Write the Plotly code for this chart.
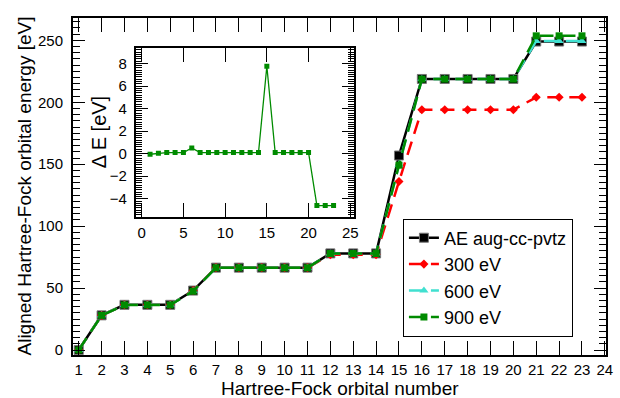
import plotly.graph_objects as go

orbitals = list(range(1, 24))
ae_vals = [0, 28, 36.5, 36.5, 36.5, 48, 66.5, 66.5, 66.5, 66.5, 66.5, 78, 78, 78,
           157, 218.8, 218.8, 218.8, 218.8, 218.8, 249, 249, 249]
ev300_vals = [0, 28, 36.5, 36.5, 36.5, 48, 66.5, 66.5, 66.5, 66.5, 66.5, 77, 77, 77,
              136, 194, 194, 194, 194, 194, 204, 204, 204]
ev600_vals = [0, 28, 36.5, 36.5, 36.5, 47.6, 66.4, 66.4, 66.4, 66.4, 66.4, 77.9, 77.9, 77.9,
              149.5, 218.7, 218.7, 218.7, 218.7, 218.7, 249.5, 249.5, 249.5]
ev900_vals = [0.05, 27.95, 36.4, 36.4, 36.4, 47.5, 66.4, 66.4, 66.4, 66.4, 66.4, 77.9, 77.9, 77.9,
              149.2, 218.7, 218.7, 218.7, 218.7, 218.7, 253.6, 253.6, 253.6]
delta_e = [-0.05, 0.03, 0.1, 0.1, 0.1, 0.5, 0.1, 0.1, 0.1, 0.1, 0.1, 0.1, 0.1, 0.1,
           7.75, 0.1, 0.1, 0.1, 0.1, 0.1, -4.6, -4.6, -4.6]
x_ticks = list(range(1, 25))
y_ticks = [0, 50, 100, 150, 200, 250]
inset_x_ticks = [0, 5, 10, 15, 20, 25]
inset_y_ticks = [-4, -2, 0, 2, 4, 6, 8]

GREEN = "rgb(0,139,0)"
RED = "rgb(255,0,0)"
CYAN = "rgb(64,224,208)"
FONT = "Liberation Sans, Arial, sans-serif"

fig = go.Figure()
fig.add_trace(go.Scatter(x=orbitals, y=ae_vals, name="AE aug-cc-pvtz", mode="lines+markers",
                         line=dict(color="black", width=2.5),
                         marker=dict(symbol="square", size=9, color="black",
                                     line=dict(color="#777", width=1))))
fig.add_trace(go.Scatter(x=orbitals, y=ev300_vals, name="300 eV", mode="lines+markers",
                         line=dict(color=RED, width=2.5, dash="14px,8px"),
                         marker=dict(symbol="diamond", size=7, color=RED)))
fig.add_trace(go.Scatter(x=orbitals, y=ev600_vals, name="600 eV", mode="lines+markers",
                         line=dict(color=CYAN, width=2.5, dash="14px,8px"),
                         marker=dict(symbol="triangle-up", size=8, color=CYAN)))
fig.add_trace(go.Scatter(x=orbitals, y=ev900_vals, name="900 eV", mode="lines+markers",
                         line=dict(color=GREEN, width=2.5, dash="14px,8px"),
                         marker=dict(symbol="square", size=7, color=GREEN)))
fig.add_trace(go.Scatter(x=orbitals, y=delta_e, xaxis="x2", yaxis="y2", showlegend=False,
                         mode="lines+markers", line=dict(color=GREEN, width=1.3),
                         marker=dict(symbol="square", size=5, color=GREEN)))

axis_common = dict(showgrid=False, zeroline=False, showline=True, linecolor="black",
                   linewidth=2, mirror="allticks", ticks="inside", tickcolor="black",
                   tickwidth=1.3, tickfont=dict(family=FONT, size=15, color="black"))

fig.update_layout(
    width=620, height=398, autosize=False,
    margin=dict(l=73, r=7, t=18, b=43),
    paper_bgcolor="white", plot_bgcolor="white",
    font=dict(family=FONT, color="black"),
    xaxis=dict(**axis_common, range=[0.75, 24.05], tickvals=x_ticks, ticklen=14,
               ticklabelstandoff=0),
    yaxis=dict(**axis_common, range=[-4, 268], tickvals=y_ticks, ticklen=12,
               ticklabelstandoff=5,
               minor=dict(dtick=5, tick0=0, ticklen=7, ticks="inside", tickcolor="black",
                          tickwidth=1.3)),
    xaxis2=dict(**axis_common, domain=[0.118, 0.528], anchor="y2", range=[-0.7, 25.5],
                tickvals=inset_x_ticks, ticklen=14, ticklabelstandoff=1),
    yaxis2=dict(**axis_common, domain=[0.41, 0.912], anchor="x2", range=[-5.6, 9.4],
                tickvals=inset_y_ticks, ticklen=12, ticklabelstandoff=4,
                minor=dict(dtick=0.2, tick0=0, ticklen=6, ticks="inside", tickcolor="black",
                           tickwidth=1)),
    legend=dict(x=0.619, y=0.405, xanchor="left", yanchor="top", bgcolor="white",
                bordercolor="black", borderwidth=1,
                font=dict(family=FONT, size=18, color="black"),
                tracegroupgap=0, itemwidth=30),
    showlegend=True,
    annotations=[
        dict(text="Hartree-Fock orbital number", xref="paper", yref="paper", x=0.5, y=0,
             xanchor="center", yanchor="middle", yshift=-33, showarrow=False,
             font=dict(family=FONT, size=19, color="black")),
        dict(text="Aligned Hartree-Fock orbital energy [eV]", xref="paper", yref="paper",
             x=0, y=0.5, xanchor="center", yanchor="middle", xshift=-49, textangle=-90,
             showarrow=False, font=dict(family=FONT, size=19, color="black")),
        dict(text="Δ E [eV]", xref="paper", yref="paper", x=0.118, y=0.661,
             xanchor="center", yanchor="middle", xshift=-37, textangle=-90,
             showarrow=False, font=dict(family=FONT, size=20, color="black")),
    ],
)

fig.write_html("out.html")
